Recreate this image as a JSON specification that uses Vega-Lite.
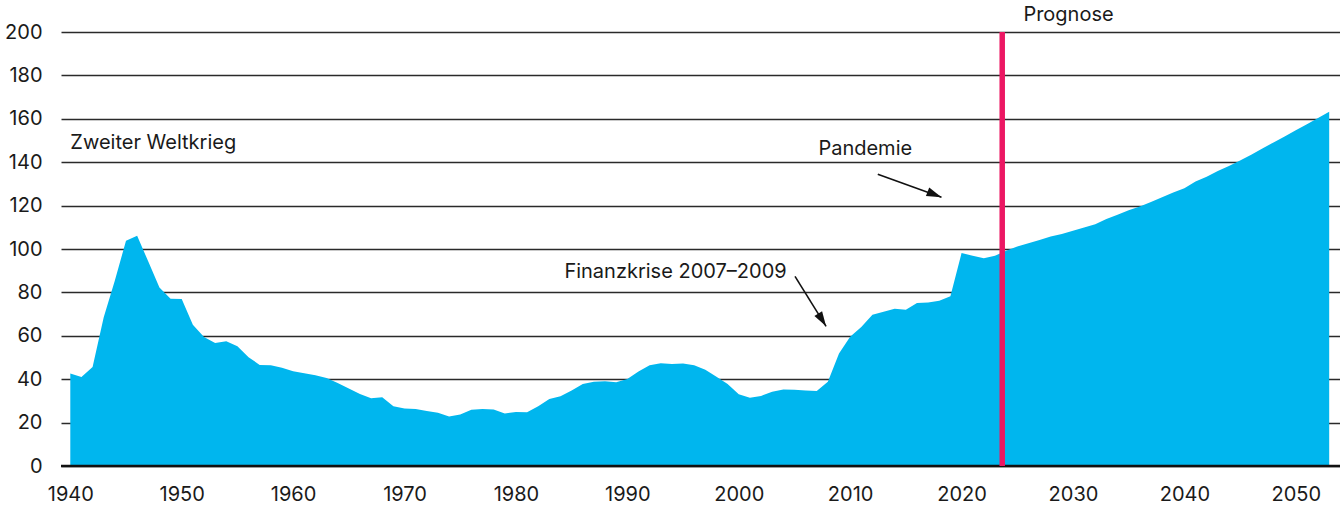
{
  "$schema": "https://vega.github.io/schema/vega-lite/v6.json",
  "width": 1279,
  "height": 434,
  "autosize": {"type": "none"},
  "padding": {"left": 61, "top": 32, "right": 0, "bottom": 40},
  "config": {
    "view": {"stroke": null},
    "font": "Inter",
    "text": {"font": "Inter", "fontSize": 20, "color": "#1a1a1a"}
  },
  "datasets": {
    "debt": [
      {"year": 1940, "value": 42.6}, {"year": 1941, "value": 41.0}, {"year": 1942, "value": 45.6},
      {"year": 1943, "value": 68.5}, {"year": 1944, "value": 85.5}, {"year": 1945, "value": 103.8},
      {"year": 1946, "value": 106.1}, {"year": 1947, "value": 94.2}, {"year": 1948, "value": 82.3},
      {"year": 1949, "value": 77.1}, {"year": 1950, "value": 77.0}, {"year": 1951, "value": 65.1},
      {"year": 1952, "value": 59.5}, {"year": 1953, "value": 56.7}, {"year": 1954, "value": 57.5},
      {"year": 1955, "value": 55.2}, {"year": 1956, "value": 50.1}, {"year": 1957, "value": 46.6},
      {"year": 1958, "value": 46.4}, {"year": 1959, "value": 45.3}, {"year": 1960, "value": 43.7},
      {"year": 1961, "value": 42.7}, {"year": 1962, "value": 41.8}, {"year": 1963, "value": 40.6},
      {"year": 1964, "value": 38.2}, {"year": 1965, "value": 35.7}, {"year": 1966, "value": 33.2},
      {"year": 1967, "value": 31.2}, {"year": 1968, "value": 31.7}, {"year": 1969, "value": 27.5},
      {"year": 1970, "value": 26.5}, {"year": 1971, "value": 26.3}, {"year": 1972, "value": 25.4},
      {"year": 1973, "value": 24.5}, {"year": 1974, "value": 22.8}, {"year": 1975, "value": 23.7},
      {"year": 1976, "value": 25.9}, {"year": 1977, "value": 26.3}, {"year": 1978, "value": 26.0},
      {"year": 1979, "value": 24.2}, {"year": 1980, "value": 24.9}, {"year": 1981, "value": 24.8},
      {"year": 1982, "value": 27.5}, {"year": 1983, "value": 30.9}, {"year": 1984, "value": 32.1},
      {"year": 1985, "value": 34.8}, {"year": 1986, "value": 37.8}, {"year": 1987, "value": 38.8},
      {"year": 1988, "value": 39.0}, {"year": 1989, "value": 38.6}, {"year": 1990, "value": 40.1},
      {"year": 1991, "value": 43.6}, {"year": 1992, "value": 46.4}, {"year": 1993, "value": 47.3},
      {"year": 1994, "value": 47.0}, {"year": 1995, "value": 47.2}, {"year": 1996, "value": 46.4},
      {"year": 1997, "value": 44.3}, {"year": 1998, "value": 41.1}, {"year": 1999, "value": 37.8},
      {"year": 2000, "value": 33.1}, {"year": 2001, "value": 31.4}, {"year": 2002, "value": 32.3},
      {"year": 2003, "value": 34.2}, {"year": 2004, "value": 35.2}, {"year": 2005, "value": 35.1},
      {"year": 2006, "value": 34.8}, {"year": 2007, "value": 34.6}, {"year": 2008, "value": 38.8},
      {"year": 2009, "value": 51.8}, {"year": 2010, "value": 59.6}, {"year": 2011, "value": 64.1},
      {"year": 2012, "value": 69.7}, {"year": 2013, "value": 71.1}, {"year": 2014, "value": 72.5},
      {"year": 2015, "value": 72.0}, {"year": 2016, "value": 75.1}, {"year": 2017, "value": 75.3},
      {"year": 2018, "value": 76.2}, {"year": 2019, "value": 78.2}, {"year": 2020, "value": 98.1},
      {"year": 2021, "value": 96.9}, {"year": 2022, "value": 95.7}, {"year": 2023, "value": 96.9},
      {"year": 2024, "value": 99.2}, {"year": 2025, "value": 101.2}, {"year": 2026, "value": 102.6},
      {"year": 2027, "value": 104.1}, {"year": 2028, "value": 105.8}, {"year": 2029, "value": 106.9},
      {"year": 2030, "value": 108.4}, {"year": 2031, "value": 109.9}, {"year": 2032, "value": 111.4},
      {"year": 2033, "value": 113.8}, {"year": 2034, "value": 115.8}, {"year": 2035, "value": 117.8},
      {"year": 2036, "value": 119.6}, {"year": 2037, "value": 121.7}, {"year": 2038, "value": 123.9},
      {"year": 2039, "value": 126.0}, {"year": 2040, "value": 128.0}, {"year": 2041, "value": 131.1},
      {"year": 2042, "value": 133.3}, {"year": 2043, "value": 135.9}, {"year": 2044, "value": 138.3},
      {"year": 2045, "value": 140.8}, {"year": 2046, "value": 143.4}, {"year": 2047, "value": 146.3},
      {"year": 2048, "value": 149.1}, {"year": 2049, "value": 151.8}, {"year": 2050, "value": 154.7},
      {"year": 2051, "value": 157.5}, {"year": 2052, "value": 160.4}, {"year": 2053, "value": 163.2}
    ],
    "labels": [
      {"label": "Zweiter Weltkrieg", "year": 1940.0, "value": 148.7},
      {"label": "Pandemie", "year": 2007.15, "value": 146.0},
      {"label": "Finanzkrise 2007–2009", "year": 1984.35, "value": 89.2},
      {"label": "Prognose", "year": 2025.55, "value": 208.0}
    ],
    "arrows": [
      {"name": "Finanzkrise", "year": 2005.05, "value": 87.4, "year2": 2007.84, "value2": 64.35},
      {"name": "Pandemie", "year": 2012.48, "value": 134.5, "year2": 2018.2, "value2": 123.8}
    ],
    "heads": [
      {"name": "Finanzkrise", "year": 2007.84, "value": 64.35, "angle": 148.5},
      {"name": "Pandemie", "year": 2018.2, "value": 123.8, "angle": 111.8}
    ]
  },
  "encoding": {
    "x": {
      "field": "year", "type": "quantitative",
      "scale": {"domain": [1939.165, 2053.97], "nice": false, "zero": false},
      "axis": {
        "title": null, "values": [1940, 1950, 1960, 1970, 1980, 1990, 2000, 2010, 2020, 2030, 2040, 2050],
        "format": "d", "grid": false, "domain": false, "ticks": false, "tickSize": 0,
        "labelFontSize": 20, "labelColor": "#1a1a1a", "labelPadding": 18, "labelFont": "Inter"
      }
    },
    "y": {
      "field": "value", "type": "quantitative",
      "scale": {"domain": [0, 200], "nice": false},
      "axis": {
        "title": null, "values": [0, 20, 40, 60, 80, 100, 120, 140, 160, 180, 200],
        "grid": true, "gridColor": "#2a2a2a", "gridWidth": 1.5, "gridOpacity": 1,
        "domain": false, "ticks": false, "tickSize": 0,
        "labelFontSize": 20, "labelColor": "#1a1a1a", "labelPadding": 19, "labelFont": "Inter"
      }
    }
  },
  "layer": [
    {
      "data": {"name": "debt"},
      "mark": {"type": "area", "color": "#00b6ee", "interpolate": "linear"}
    },
    {
      "data": {"values": [{"value": 0}]},
      "mark": {"type": "rule", "color": "#111111", "strokeWidth": 2.6},
      "encoding": {"x": null}
    },
    {
      "data": {"values": [{"year": 2023.65, "value": 0, "value2": 200}]},
      "mark": {"type": "rule", "color": "#ec1763", "strokeWidth": 5.5},
      "encoding": {"y2": {"field": "value2"}}
    },
    {
      "data": {"name": "labels"},
      "mark": {"type": "text", "align": "left", "baseline": "middle"},
      "encoding": {"text": {"field": "label"}}
    },
    {
      "data": {"name": "arrows"},
      "mark": {"type": "rule", "color": "#111111", "strokeWidth": 1.6},
      "encoding": {"x2": {"field": "year2"}, "y2": {"field": "value2"}}
    },
    {
      "data": {"name": "heads"},
      "mark": {"type": "point", "shape": "M0,0L0.6,2L-0.6,2Z", "filled": true, "color": "#111111", "opacity": 1, "size": 225, "strokeWidth": 0},
      "encoding": {"angle": {"field": "angle", "type": "quantitative", "scale": null}}
    }
  ]
}
